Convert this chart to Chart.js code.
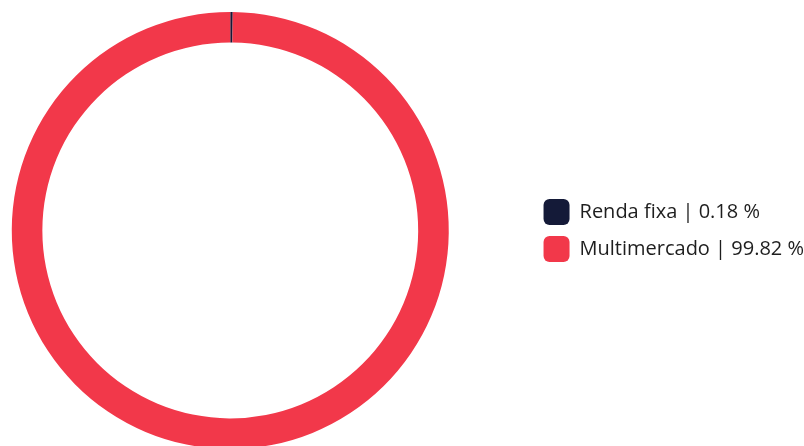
<!DOCTYPE html>
<html>
<head>
<meta charset="utf-8">
<script src="https://cdn.jsdelivr.net/npm/chart.js@4"></script>
<style>
    html, body { margin: 0; padding: 0; overflow: hidden; background: #fff; }
    /* canvas deslocado para posicionar o donut como no original */
    #chartCarteira { display: block; margin-left: -72px; }
</style>
</head>
<body>
<canvas id="chartCarteira" width="886" height="461"></canvas>
<script>
// Dados da carteira
const categorias = ['Renda fixa', 'Multimercado'];
const percentuais = [0.18, 99.82];
const cores = ['#141a38', '#f2384a'];

// Rótulos da legenda: "Nome | valor %"
const rotulos = categorias.map((nome, i) => nome + ' | ' + percentuais[i] + ' %');

const ctx = document.getElementById('chartCarteira').getContext('2d');
new Chart(ctx, {
    type: 'doughnut',
    data: {
        labels: rotulos,
        datasets: [{
            data: percentuais,
            backgroundColor: cores,
            borderWidth: 0
        }]
    },
    options: {
        responsive: false,
        animation: false,
        cutout: '86%',
        layout: {
            padding: { top: 12, bottom: 12, left: 0, right: 0 }
        },
        plugins: {
            tooltip: { enabled: false },
            legend: {
                position: 'right',
                labels: {
                    boxWidth: 26,
                    boxHeight: 26,
                    padding: 11,
                    useBorderRadius: true,
                    borderRadius: 6,
                    color: '#1e1e1e',
                    font: { family: 'Open Sans', size: 20 }
                }
            }
        }
    }
});
</script>
</body>
</html>
